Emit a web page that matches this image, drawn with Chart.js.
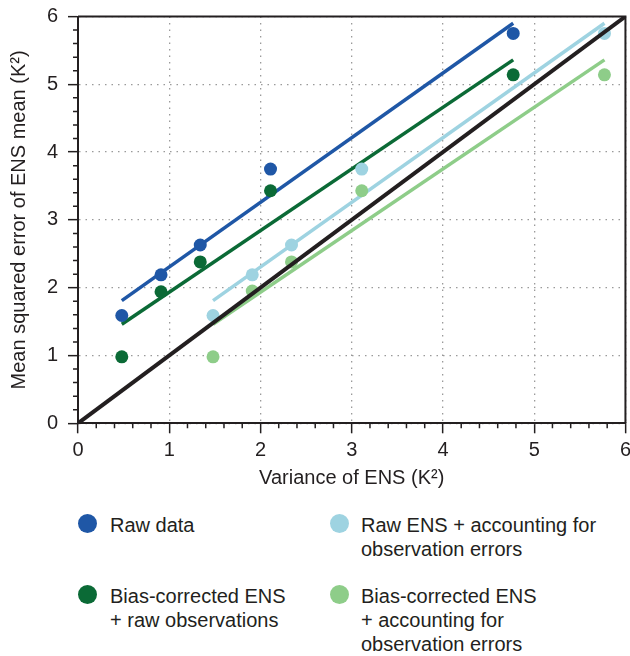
<!DOCTYPE html>
<html>
<head>
<meta charset="utf-8">
<script src="https://cdn.jsdelivr.net/npm/chart.js@4"></script>
<style>
  html, body { margin: 0; padding: 0; background: #fff; overflow: hidden; }
  #wrap { position: relative; width: 630px; height: 656px; overflow: hidden; }
  #chart { position: absolute; left: 0; top: 0; }
  .lg { position: absolute; font: 20px "Liberation Sans", Arial, sans-serif; line-height: 24px; color: #231f20; white-space: nowrap; }
  .lg-dot { position: absolute; width: 19px; height: 19px; border-radius: 50%; }
</style>
</head>
<body>
<div id="wrap">
  <canvas id="chart" width="636" height="500"></canvas>
</div>
<script>
// points
const rawX = [0.48, 0.91, 1.34, 2.11, 4.77];
const rawY = [1.59, 2.19, 2.63, 3.75, 5.75];
const biasY = [0.98, 1.94, 2.38, 3.43, 5.14];
const obsX = [1.48, 1.91, 2.34, 3.11, 5.77];
const rawObsY = [1.59, 2.19, 2.63, 3.75, 5.75];
const biasObsY = [0.98, 1.95, 2.38, 3.43, 5.14];

// fitted lines, end points
const rawFitX = [0.48, 4.77];
const rawFitY = [1.81, 5.90];
const biasFitX = [0.48, 4.77];
const biasFitY = [1.46, 5.36];
const obsFitX = [1.48, 5.77];
const rawObsFitY = [1.81, 5.90];
const biasObsFitY = [1.46, 5.36];
const oneToOne = [0, 6];

const labels = [
  "Raw data",
  "Raw ENS + accounting for<br>observation errors",
  "Bias-corrected ENS<br>+ raw observations",
  "Bias-corrected ENS<br>+ accounting for<br>observation errors",
];
const colors = ["#1f57a6", "#9ed3e1", "#0b6a36", "#8ecd89"];
const ink = "#231f20";

const pts = (xs, ys) => xs.map((x, i) => ({ x, y: ys[i] }));

function dots(label, xs, ys, color) {
  return { label, data: pts(xs, ys), backgroundColor: color, borderWidth: 0, pointRadius: 6.5, showLine: false, order: 2 };
}
function fit(xs, ys, color) {
  return { data: pts(xs, ys), borderColor: color, borderWidth: 3.5, borderCapStyle: "butt", pointRadius: 0, showLine: true, order: 3 };
}

const frameAndMinor = {
  id: "frameAndMinor",
  afterDraw(chart) {
    const { ctx, chartArea: a, scales: { x, y } } = chart;
    ctx.save();
    ctx.strokeStyle = ink;
    ctx.lineWidth = 1.5;
    ctx.beginPath();
    for (let i = 1; i < 30; i++) {
      if (i % 5 === 0) continue;
      const px = x.getPixelForValue(i / 5);
      ctx.moveTo(px, a.bottom);
      ctx.lineTo(px, a.bottom + 5);
      const py = y.getPixelForValue(i / 5);
      ctx.moveTo(a.left, py);
      ctx.lineTo(a.left - 5, py);
    }
    ctx.stroke();
    ctx.lineWidth = 2;
    ctx.beginPath();
    ctx.moveTo(a.left, a.top);
    ctx.lineTo(a.right, a.top);
    ctx.lineTo(a.right, a.bottom);
    ctx.stroke();
    ctx.restore();
  },
};

const font = { family: "'Liberation Sans', Arial, sans-serif", size: 20 };

new Chart(document.getElementById("chart"), {
  type: "scatter",
  data: {
    datasets: [
      { data: pts(oneToOne, oneToOne), borderColor: ink, borderWidth: 4, pointRadius: 0, showLine: true, order: 1 },
      dots(labels[0], rawX, rawY, colors[0]),
      dots(labels[2], rawX, biasY, colors[2]),
      dots(labels[1], obsX, rawObsY, colors[1]),
      dots(labels[3], obsX, biasObsY, colors[3]),
      fit(rawFitX, rawFitY, colors[0]),
      fit(biasFitX, biasFitY, colors[2]),
      fit(obsFitX, rawObsFitY, colors[1]),
      fit(obsFitX, biasObsFitY, colors[3]),
    ],
  },
  options: {
    responsive: false,
    animation: false,
    layout: { padding: { top: 16.5, right: 0, bottom: 0, left: 0 } },
    plugins: { legend: { display: false }, tooltip: { enabled: false } },
    scales: {
      x: {
        type: "linear", min: 0, max: 6,
        ticks: { stepSize: 1, color: ink, font, padding: 5 },
        grid: { color: "#9a9a9a", lineWidth: 1.3, tickLength: 10, tickColor: ink, tickWidth: 1.5 },
        border: { color: ink, width: 2, dash: [1.5, 5] },
        title: { display: true, text: "Variance of ENS (K²)", color: ink, font, padding: { top: 0, bottom: 10 } },
        afterFit: (s) => { s.height = 76.7; },
      },
      y: {
        type: "linear", min: 0, max: 6,
        ticks: { stepSize: 1, color: ink, font, padding: 10 },
        grid: { color: "#9a9a9a", lineWidth: 1.3, tickLength: 10, tickColor: ink, tickWidth: 1.5 },
        border: { color: ink, width: 2, dash: [1.5, 5] },
        title: { display: true, text: "Mean squared error of ENS mean (K²)", color: ink, font, padding: { top: 7, bottom: 0 } },
        afterFit: (s) => { s.width = 78; s.paddingTop = 0; },
      },
    },
  },
  plugins: [frameAndMinor],
});

// legend laid out in two columns like the reference
const wrap = document.getElementById("wrap");
const slots = [
  { dot: [87, 523], text: [110, 513] },
  { dot: [339, 523], text: [361, 513] },
  { dot: [87, 594], text: [110, 584] },
  { dot: [339, 594], text: [361, 584] },
];
labels.forEach((lab, i) => {
  const d = document.createElement("div");
  d.className = "lg-dot";
  d.style.background = colors[i];
  d.style.left = (slots[i].dot[0] - 9.5) + "px";
  d.style.top = (slots[i].dot[1] - 9.5) + "px";
  wrap.appendChild(d);
  const t = document.createElement("div");
  t.className = "lg";
  t.style.left = slots[i].text[0] + "px";
  t.style.top = slots[i].text[1] + "px";
  t.innerHTML = lab;
  wrap.appendChild(t);
});
</script>
</body>
</html>
